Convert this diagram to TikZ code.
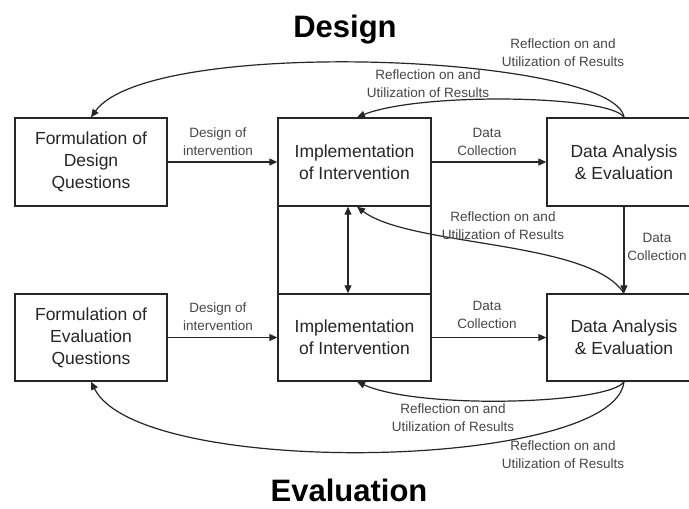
\documentclass[tikz,border=0pt]{standalone}
\usepackage{fontspec}
\setmainfont{Liberation Sans}
\usetikzlibrary{arrows.meta}
\begin{document}
\begin{tikzpicture}[x=1pt,y=-1pt,
  box/.style={draw=black!85, line width=1.4pt, align=center, inner sep=0pt,
    font=\fontsize{17.5}{22}\selectfont, text=black!85},
  lbl/.style={align=center, inner sep=0pt, font=\fontsize{13.5}{18}\selectfont, text=black!72},
  arr/.style={line width=1.2pt, draw=black!85, -{Triangle[length=8pt,width=7pt]}},
  dblarr/.style={line width=1.2pt, draw=black!85, {Triangle[length=8pt,width=7pt]}-{Triangle[length=8pt,width=7pt]}},
  titletext/.style={inner sep=0pt, font=\fontsize{31}{36}\selectfont\bfseries}]
\useasboundingbox (0,0) rectangle (689,509);
\fill[white] (0,0) rectangle (689,509);
\clip (0,0) rectangle (689,509);

% titles
\node[titletext] (tdesign) at (345,30) {Design};
\node[titletext] (teval) at (349,490) {Evaluation};

% boxes
\node[box, minimum width=152pt, minimum height=88pt] (fd) at (91,162) {Formulation of\\Design\\Questions};
\node[box, minimum width=152pt, minimum height=87pt] (fe) at (91,337.5) {Formulation of\\Evaluation\\Questions};
\draw[draw=black!85, line width=1.4pt] (278,118) rectangle (431,381);
\node[box, minimum width=153pt, minimum height=88pt] (it) at (354.5,162) {Implementation\\of Intervention};
\node[box, minimum width=153pt, minimum height=87pt] (ib) at (354.5,337.5) {Implementation\\of Intervention};
\node[box, minimum width=154pt, minimum height=88pt] (dt) at (624,162) {Data Analysis\\\& Evaluation};
\node[box, minimum width=154pt, minimum height=87pt] (db) at (624,337.5) {Data Analysis\\\& Evaluation};

% straight connectors
\draw[arr] (fd) -- (it);
\node[lbl] (l1) at (218,141.5) {Design of\\intervention};
\draw[arr] (fe) -- (ib);
\node[lbl] (l2) at (218,317) {Design of\\intervention};
\draw[arr] (it) -- (dt);
\node[lbl] (l3) at (487,141.5) {Data\\Collection};
\draw[arr] (ib) -- (db);
\node[lbl] (l4) at (487,315) {Data\\Collection};
\draw[arr] (dt) -- (db);
\node[lbl] (l5) at (657,247) {Data\\Collection};
\draw[dblarr] ([xshift=-6.5pt]it.south) -- ([xshift=-6.5pt]ib.north);

% curved connectors
\draw[arr] (db.north) .. controls (590,240) and (410,247) .. ([xshift=2.5pt]it.south);
\node[lbl] (l6) at (503,226) {Reflection on and\\Utilization of Results};

\draw[arr] (dt.north) .. controls (615,55) and (150,35) .. (fd.north);
\node[lbl] (l7) at (563,53) {Reflection on and\\Utilization of Results};
\draw[arr] (dt.north) .. controls (610,95) and (420,92) .. ([xshift=2.5pt]it.north);
\node[lbl] (l8) at (428,83.5) {Reflection on and\\Utilization of Results};

\draw[arr] (db.south) .. controls (610,404) and (420,410) .. ([xshift=2.5pt]ib.south);
\node[lbl] (l9) at (453,417.5) {Reflection on and\\Utilization of Results};
\draw[arr] (db.south) .. controls (615,470) and (140,480) .. (fe.south);
\node[lbl] (l10) at (563,455) {Reflection on and\\Utilization of Results};
\end{tikzpicture}
\end{document}
